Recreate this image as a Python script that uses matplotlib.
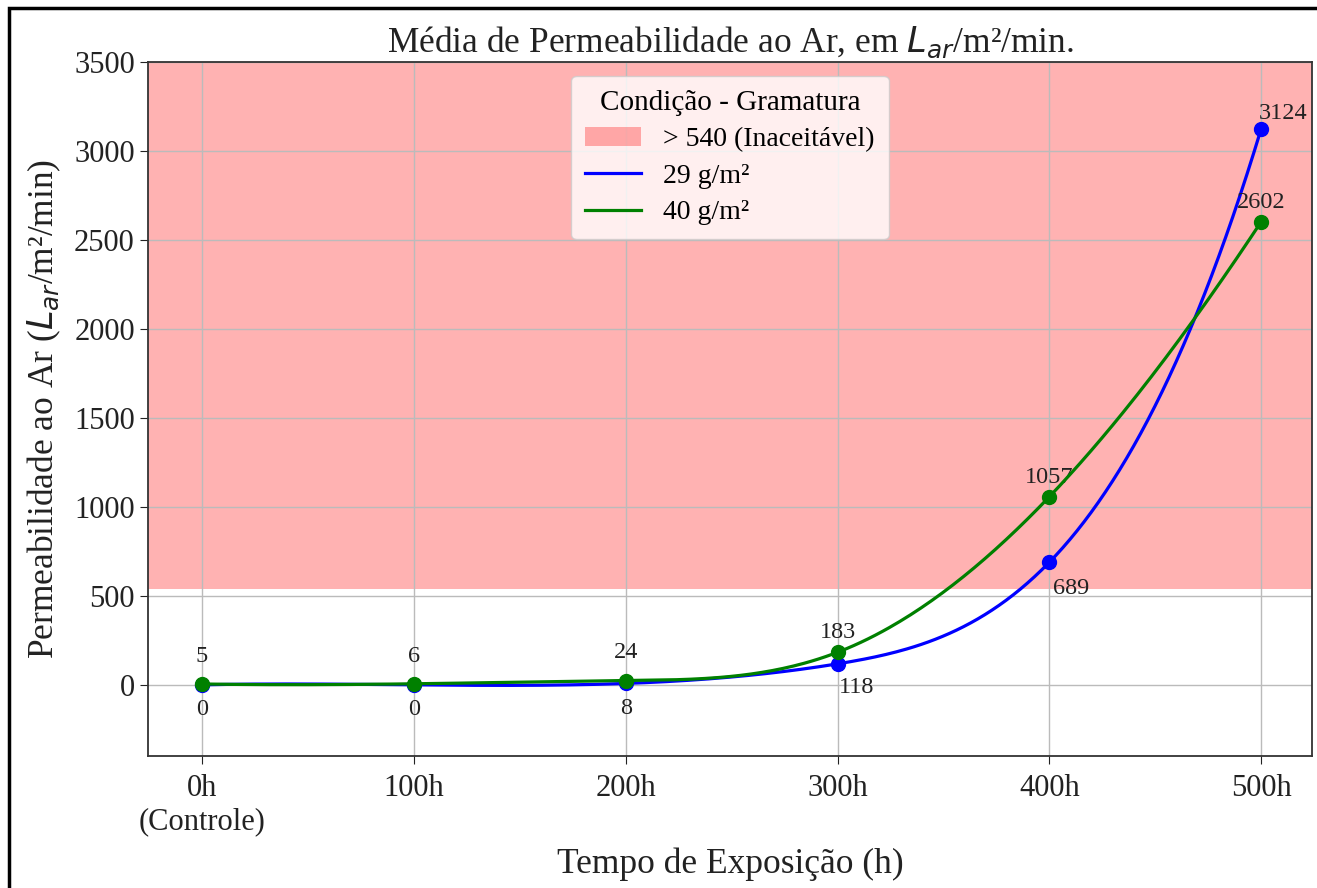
import numpy as np
import matplotlib.pyplot as plt
from matplotlib.patches import Rectangle

# data
horas = [0, 100, 200, 300, 400, 500]
rotulos = ['0h\n(Controle)', '100h', '200h', '300h', '400h', '500h']
perm_29 = [0, 0, 8, 118, 689, 3124]
perm_40 = [5, 6, 24, 183, 1057, 2602]
limite = 540

plt.rcParams['font.family'] = ['Liberation Serif', 'DejaVu Serif']


def spline_nak(x, y, n=300):
    # cubic spline, not-a-knot ends (uniform spacing)
    x = np.asarray(x, float)
    y = np.asarray(y, float)
    k = len(x)
    h = x[1] - x[0]
    A = np.zeros((k, k))
    b = np.zeros(k)
    A[0, :3] = [1, -2, 1]
    A[-1, -3:] = [1, -2, 1]
    for i in range(1, k - 1):
        A[i, i - 1:i + 2] = [h, 4 * h, h]
        b[i] = 6 * (y[i + 1] - 2 * y[i] + y[i - 1]) / h
    M = np.linalg.solve(A, b)
    xs = np.linspace(x[0], x[-1], n)
    idx = np.clip(((xs - x[0]) // h).astype(int), 0, k - 2)
    t0 = xs - x[idx]
    t1 = x[idx + 1] - xs
    ys = (M[idx] * t1 ** 3 + M[idx + 1] * t0 ** 3) / (6 * h) \
        + (y[idx] / h - M[idx] * h / 6) * t1 + (y[idx + 1] / h - M[idx + 1] * h / 6) * t0
    return xs, ys


fig = plt.figure(figsize=(13.17, 8.88), dpi=100)
ax = fig.add_axes([0.1124, 0.1486, 0.8838, 0.7816])

pos = np.arange(len(horas))
ax.axhspan(limite, 3500, color='red', alpha=0.3, lw=0, label='> 540 (Inaceitável)', zorder=0)

xs, ys = spline_nak(pos, perm_29)
ax.plot(xs, ys, color='blue', lw=2.3, label='29 g/m²', zorder=3)
ax.plot(pos, perm_29, 'o', color='blue', ms=10, zorder=3)
xs, ys = spline_nak(pos, perm_40)
ax.plot(xs, ys, color='green', lw=2.3, label='40 g/m²', zorder=4)
ax.plot(pos, perm_40, 'o', color='green', ms=10, zorder=4)

# value labels
off_29 = [(0, -18), (0, -18), (0, -18), (14, -17), (16, -19), (16, 11)]
for p, v, o in zip(pos, perm_29, off_29):
    ax.annotate(str(v), (p, v), xytext=o, textcoords='offset points',
                ha='center', va='center', fontsize=17.5, color='#222222')
for p, v in zip(pos, perm_40):
    ax.annotate(str(v), (p, v), xytext=(0, 20 if p < 3 else 14), textcoords='offset points',
                ha='center', va='center', fontsize=17.5, color='#222222')

ax.set_xlim(-0.255, 5.24)
ax.set_ylim(-400, 3500)
ax.set_xticks(pos)
ax.set_xticklabels(rotulos)
ax.set_yticks(np.arange(0, 3501, 500))
ax.tick_params(labelsize=22, colors='#222222', length=6)
ax.tick_params(axis='x', pad=7)
ax.grid(True, color='#bbbbbb', lw=1)
ax.set_axisbelow(True)
for s in ax.spines.values():
    s.set_color('#333333')
    s.set_linewidth(1.3)

ax.set_title('Média de Permeabilidade ao Ar, em $L_{ar}$/m²/min.', fontsize=25.5, pad=7, color='#222222')
ax.set_xlabel('Tempo de Exposição (h)', fontsize=25.5, labelpad=8, color='#222222')
ax.set_ylabel('Permeabilidade ao Ar ($L_{ar}$/m²/min)', fontsize=25.5, labelpad=8, color='#222222')

leg = ax.legend(title='Condição - Gramatura', loc='upper center', fontsize=20,
                title_fontsize=21, bbox_to_anchor=(0.5, 1.0), handlelength=2.0,
                borderpad=0.5, labelspacing=0.4, framealpha=0.8)

fig.patches.append(Rectangle((0.007, -0.01), 1.0, 1.001, transform=fig.transFigure,
                             fill=False, ec='black', lw=2.5))

fig.savefig('out.png', dpi=100)
